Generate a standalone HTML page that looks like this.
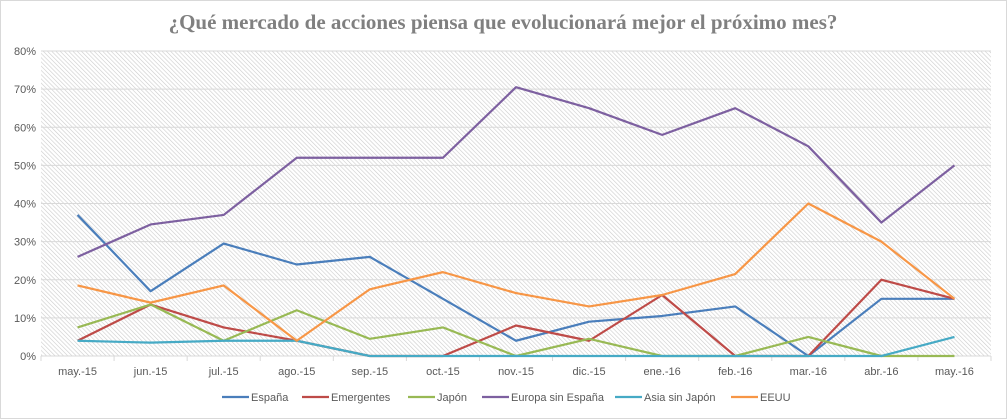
<!DOCTYPE html>
<html><head><meta charset="utf-8"><style>
body{margin:0;background:#fff;}
svg{display:block;font-family:"Liberation Sans",sans-serif;}
</style></head><body>
<svg id="chart" width="1007" height="419">
<defs><pattern id="hatch" width="3" height="3" patternUnits="userSpaceOnUse" patternTransform="rotate(-45)"><rect width="3" height="3" fill="#fff"/><line x1="0" y1="0" x2="0" y2="3" stroke="#cccccc" stroke-width="1.2"/></pattern></defs>
<rect x="0.5" y="0.5" width="1006" height="418" fill="#fff" stroke="#d9d9d9"/>
<text x="503" y="29" text-anchor="middle" font-family="'Liberation Serif',serif" font-weight="bold" font-size="21" fill="#808080">¿Qué mercado de acciones piensa que evolucionará mejor el próximo mes?</text>
<rect x="41" y="51" width="950" height="305" fill="url(#hatch)"/>
<g id="grid"></g><g id="series"></g><g id="legend"></g>
</svg>
<script>
const categories=["may.-15","jun.-15","jul.-15","ago.-15","sep.-15","oct.-15","nov.-15","dic.-15","ene.-16","feb.-16","mar.-16","abr.-16","may.-16"];
const yTicks=[0,10,20,30,40,50,60,70,80];
const seriesNames=["España","Emergentes","Japón","Europa sin España","Asia sin Japón","EEUU"];
const seriesColors=["#4a7ebb","#be4b48","#98b954","#7d60a0","#46aac5","#f79646"];
const espana=[37,17,29.5,24,26,15,4,9,10.5,13,0,15,15];
const emergentes=[4,13.5,7.5,4,0,0,8,4,16,0,0,20,15];
const japon=[7.5,13.5,4,12,4.5,7.5,0,4.5,0,0,5,0,0];
const europa=[26,34.5,37,52,52,52,70.5,65,58,65,55,35,50];
const asia=[4,3.5,4,4,0,0,0,0,0,0,0,0,5];
const eeuu=[18.5,14,18.5,4,17.5,22,16.5,13,16,21.5,40,30,15];
const allSeries=[espana,emergentes,japon,europa,asia,eeuu];
const NS="http://www.w3.org/2000/svg";
const L=41,R=991,T=51,B=356,step=(R-L)/categories.length;
const x=i=>L+step*(i+0.5);
const y=v=>B-(v/80)*(B-T);
function mk(tag,attrs,parent){const e=document.createElementNS(NS,tag);for(const k in attrs)e.setAttribute(k,attrs[k]);parent.appendChild(e);return e;}
const grid=document.getElementById('grid');
yTicks.forEach(t=>{
  if(t>0){const g=mk('line',{x1:L,x2:R,y1:y(t),y2:y(t),stroke:'#d9d9d9','stroke-width':1},grid);
  
  }
  const lb=mk('text',{x:36,y:y(t)+4,'text-anchor':'end','font-size':11,fill:'#595959'},grid);
  lb.textContent=t+'%';
  
  
});
const ax=mk('line',{x1:L,x2:R,y1:B,y2:B,stroke:'#d9d9d9'},grid);


for(let i=0;i<=categories.length;i++){const tk=mk('line',{x1:L+step*i,x2:L+step*i,y1:B,y2:B+5,stroke:'#d9d9d9'},grid);

}
categories.forEach((c,i)=>{const t=mk('text',{x:x(i),y:375,'text-anchor':'middle','font-size':11,fill:'#595959'},grid);t.textContent=c;

});
const sg=document.getElementById('series');
allSeries.forEach((d,s)=>{
  const p=mk('polyline',{points:d.map((v,i)=>x(i)+','+y(v)).join(' '),fill:'none',stroke:seriesColors[s],'stroke-width':2.2,'stroke-linejoin':'round'},sg);
  
  
});
const lg=document.getElementById('legend');
const lx=[222,302,408,482,615,731];
seriesNames.forEach((n,i)=>{
  const l=mk('line',{x1:lx[i],x2:lx[i]+27,y1:397,y2:397,stroke:seriesColors[i],'stroke-width':2.2},lg);
  
  
  const t=mk('text',{x:lx[i]+29,y:401,'font-size':11,fill:'#595959'},lg);t.textContent=n;
  
  
});
</script>
</body></html>
